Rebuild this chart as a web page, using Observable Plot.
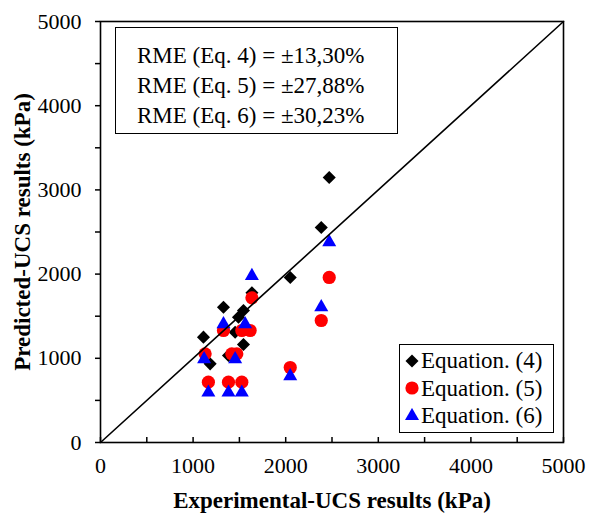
<!DOCTYPE html>
<html><head><meta charset="utf-8">
<script src="https://cdn.jsdelivr.net/npm/d3@7"></script>
<script src="https://cdn.jsdelivr.net/npm/@observablehq/plot@0.6"></script>
<style>
body{margin:0;background:#fff;}
#wrap{position:relative;width:589px;height:517px;font-family:"Liberation Serif",Tinos,"Times New Roman",Times,"Nimbus Roman","DejaVu Serif",serif;color:#000;}
#wrap svg{display:block;}
#wrap svg text{font-family:"Liberation Serif",Tinos,"Times New Roman",Times,"Nimbus Roman","DejaVu Serif",serif;}
.box{position:absolute;border:1.5px solid #000;background:#fff;box-sizing:border-box;}
#rme{left:115px;top:27px;width:283px;height:107px;padding:13px 0 0 21px;font-size:23px;line-height:30px;}
#legend{left:399px;top:344px;width:155px;height:89px;padding:2px 0 0 4px;font-size:23px;line-height:27.5px;}
#legend .row{display:flex;align-items:center;white-space:nowrap;}
#legend svg{margin-right:1px;}
</style></head><body><div id="wrap"></div>
<script>
// Series
const seriesNames = ["Equation. (4)", "Equation. (5)", "Equation. (6)"];
const seriesColors = ["#000000", "#ff0000", "#0000ff"];
const seriesSymbols = ["diamond2", "circle", "triangle"];

const eq4X = [1112, 1184, 1328, 1382, 1454, 1490, 1544, 1544, 1635, 2049, 2384, 2470];
const eq4Y = [1251, 934, 1607, 1033, 1310, 1488, 1568, 1164, 1778, 1960, 2553, 3147];

const eq5X = [1130, 1165, 1328, 1382, 1418, 1472, 1526, 1616, 1526, 1635, 2049, 2384, 2470];
const eq5Y = [1053, 717, 1330, 717, 1053, 1053, 1330, 1330, 717, 1718, 891, 1449, 1960];

const eq6X = [1119, 1165, 1328, 1382, 1454, 1562, 1526, 1635, 2049, 2384, 2470];
const eq6Y = [990, 594, 1406, 594, 990, 1406, 594, 1979, 788, 1607, 2379];

// 1:1 line
const lineX = [0, 5000];
const lineY = [0, 5000];

// Ticks
const majorTicks = [0, 1000, 2000, 3000, 4000, 5000];
const minorTicks = [0, 500, 1000, 1500, 2000, 2500, 3000, 3500, 4000, 4500, 5000];

// Texts
const xTitle = "Experimental-UCS results (kPa)";
const yTitle = "Predicted-UCS results (kPa)";
const rmeLines = ["RME (Eq. 4) = \u00b113,30%", "RME (Eq. 5) = \u00b127,88%", "RME (Eq. 6) = \u00b130,23%"];

const toRows = (xs, ys) => xs.map((x, i) => ({x, y: ys[i]}));
const s4 = toRows(eq4X, eq4Y), s5 = toRows(eq5X, eq5Y), s6 = toRows(eq6X, eq6Y);
const diag = toRows(lineX, lineY);

const serif = "Liberation Serif, Tinos, Times New Roman, Times, Nimbus Roman, DejaVu Serif, serif";

const chart = Plot.plot({
  width: 589, height: 517,
  marginLeft: 100, marginRight: 26, marginTop: 21, marginBottom: 75,
  x: {domain: [0, 5000]},
  y: {domain: [0, 5000]},
  style: {fontFamily: serif, fontSize: "22px", color: "#000", background: "#fff"},
  marks: [
    Plot.axisX(minorTicks, {tickSize: -5, tickFormat: () => "", strokeWidth: 1.5, label: null}),
    Plot.axisX(majorTicks, {tickSize: 0, tickPadding: 15, fontSize: 22, label: null, tickFormat: d => String(d)}),
    Plot.axisY(minorTicks, {tickSize: 5, tickFormat: () => "", strokeWidth: 1.5, label: null}),
    Plot.axisY(majorTicks, {tickSize: 0, tickPadding: 19, fontSize: 22, label: null, tickFormat: d => String(d)}),
    Plot.dot(s4, {x: "x", y: "y", symbol: () => seriesSymbols[0], fill: seriesColors[0], stroke: "none", r: 5.9}),
    Plot.dot(s5, {x: "x", y: "y", symbol: () => seriesSymbols[1], fill: seriesColors[1], stroke: "none", r: 6.6}),
    Plot.dot(s6, {x: "x", y: "y", symbol: () => seriesSymbols[2], fill: seriesColors[2], stroke: "none", r: 5.2}),
    Plot.line(diag, {x: "x", y: "y", stroke: "#000", strokeWidth: 1.6}),
    Plot.frame({stroke: "#000", strokeWidth: 1.6}),
    Plot.text([xTitle], {frameAnchor: "bottom", dy: 58, textAnchor: "middle", lineAnchor: "middle", fontWeight: "bold", fontSize: 23, fill: "#000"}),
    Plot.text([yTitle], {frameAnchor: "left", dx: -78, rotate: -90, textAnchor: "middle", lineAnchor: "middle", fontWeight: "bold", fontSize: 23, fill: "#000"})
  ]
});

const wrap = document.getElementById("wrap");
wrap.appendChild(chart);

// RME box
const rme = document.createElement("div");
rme.id = "rme"; rme.className = "box";
rme.innerHTML = rmeLines.map(t => `<div>${t}</div>`).join("");
wrap.appendChild(rme);

// Legend
const symMap = {diamond2: d3.symbolDiamond2, circle: d3.symbolCircle, triangle: d3.symbolTriangle};
const symSize = {diamond2: 108, circle: 137, triangle: 85};
const legend = document.createElement("div");
legend.id = "legend"; legend.className = "box";
legend.innerHTML = seriesNames.map((n, i) => {
  const p = d3.symbol(symMap[seriesSymbols[i]], symSize[seriesSymbols[i]])();
  return `<div class="row"><svg width="16" height="16" viewBox="-8 -8 16 16"><path d="${p}" fill="${seriesColors[i]}"/></svg><span>${n}</span></div>`;
}).join("");
wrap.appendChild(legend);
</script></body></html>
